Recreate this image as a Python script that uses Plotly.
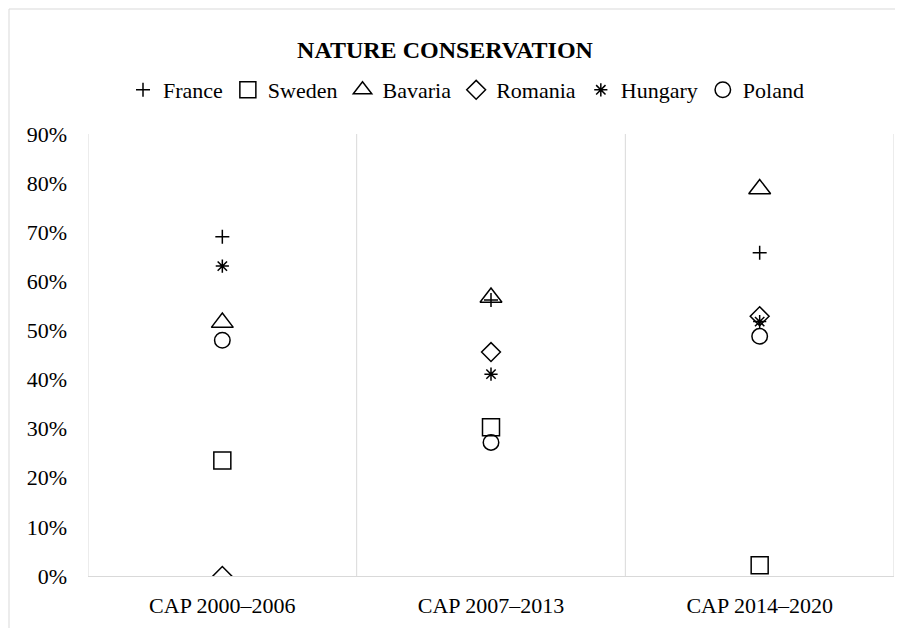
import plotly.graph_objects as go

categories = ["CAP 2000–2006", "CAP 2007–2013", "CAP 2014–2020"]
france = [0.691, 0.562, 0.658]
sweden = [0.235, 0.303, 0.022]
bavaria = [0.516, 0.567, 0.788]
romania = [0.0, 0.456, 0.529]
hungary = [0.631, 0.411, 0.518]
poland = [0.480, 0.272, 0.488]
y_ticks = [0.0, 0.1, 0.2, 0.3, 0.4, 0.5, 0.6, 0.7, 0.8, 0.9]

series = [
    ("France", france, "cross-thin-open", 10),
    ("Sweden", sweden, "square-open", 17),
    ("Bavaria", bavaria, "triangle-up-open", 19),
    ("Romania", romania, "diamond-open", 14.5),
    ("Hungary", hungary, "asterisk-open", 11),
    ("Poland", poland, "circle-open", 15.5),
]

FONT = "Liberation Serif, Times New Roman, serif"
xs = list(range(len(categories)))

W, H = 895, 620
L, R, T, B = 80, 9, 126, 52
PW, PH = W - L - R, H - T - B

fig = go.Figure()
for name, vals, sym, size in series:
    fig.add_trace(go.Scatter(
        x=xs, y=vals, mode="markers", name=name,
        marker=dict(symbol=sym, size=size, color="black",
                    line=dict(color="black", width=1.5)),
    ))

shapes = []
for b in [-0.5, 0.5, 1.5, 2.5]:
    shapes.append(dict(type="line", xref="x", yref="paper", x0=b, x1=b, y0=0, y1=1,
                       line=dict(color="#d9d9d9", width=1), layer="below"))
shapes.append(dict(type="rect", xref="paper", yref="paper",
                   x0=(1 - L) / PW, x1=1.3, y0=-0.5, y1=(PH + T - 1) / PH,
                   line=dict(color="#d9d9d9", width=1), layer="below"))

fig.update_layout(
    width=W, height=H,
    margin=dict(l=L, r=R, t=T, b=B),
    paper_bgcolor="white", plot_bgcolor="white",
    font=dict(family=FONT, size=22, color="black"),
    title=dict(text="<b>NATURE CONSERVATION</b>", x=437 / W, xref="container",
               xanchor="center", y=1 - 42 / H, yref="container", yanchor="middle",
               font=dict(family=FONT, size=24, color="black")),
    legend=dict(orientation="h", x=(458 - L) / PW, xanchor="center",
                y=(T + PH - 82) / PH, yanchor="middle",
                font=dict(family=FONT, size=22, color="black"),
                itemwidth=30, tracegroupgap=0),
    showlegend=True,
    shapes=shapes,
    xaxis=dict(range=[-0.5, 2.5], tickvals=xs, ticktext=categories,
               showgrid=False, zeroline=False, showline=True, linecolor="#d9d9d9",
               linewidth=1, ticks="", ticklabelstandoff=10,
               tickfont=dict(family=FONT, size=22, color="black")),
    yaxis=dict(range=[0, 0.9], tickvals=y_ticks, tickformat=".0%",
               showgrid=False, zeroline=False, showline=False, ticks="",
               ticklabelstandoff=20,
               tickfont=dict(family=FONT, size=22, color="black")),
)

fig.write_html("out.html")
